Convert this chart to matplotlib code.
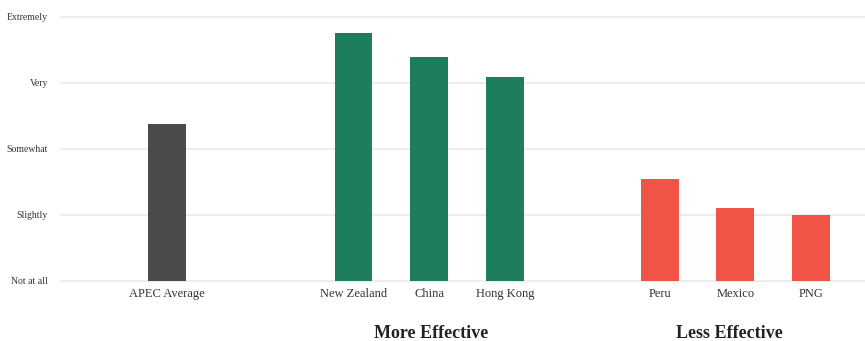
import matplotlib.pyplot as plt
from matplotlib import transforms

# data (0 = Not at all ... 4 = Extremely)
countries = ['APEC Average', 'New Zealand', 'China', 'Hong Kong', 'Peru', 'Mexico', 'PNG']
scores = [2.37, 3.75, 3.39, 3.09, 1.54, 1.10, 1.00]
groups = ['avg', 'more', 'more', 'more', 'less', 'less', 'less']
levels = ['Not at all', 'Slightly', 'Somewhat', 'Very', 'Extremely']
group_titles = ['More Effective', 'Less Effective']

colors = {'avg': '#4a4a4c', 'more': '#1e7d5a', 'less': '#f05447'}
xpos = [0, 2.46, 3.46, 4.46, 6.5, 7.5, 8.5]

plt.rcParams['font.family'] = ['Liberation Serif', 'DejaVu Serif']

fig = plt.figure(figsize=(8.65, 3.41), dpi=100)
ax = fig.add_axes([61/865, 1 - 280.7/341, 1 - 61/865, (280.7 - 16.7)/341])

ax.bar(xpos, scores, width=0.5, color=[colors[g] for g in groups], zorder=3)

ax.set_xlim(-1.4, 9.21)
ax.set_ylim(0, 4)
ax.set_yticks(range(len(levels)))
ax.set_yticklabels(levels, fontsize=7, color='#333333')
ax.set_xticks(xpos)
ax.set_xticklabels(countries, fontsize=9, color='#333333')
ax.tick_params(axis='y', length=0, pad=9.5)
ax.tick_params(axis='x', length=0, pad=5.5)
ax.grid(axis='y', color='#ececec', linewidth=1.3, zorder=0)
for gl in ax.get_ygridlines():
    gl.set_clip_on(False)
for s in ax.spines.values():
    s.set_visible(False)

trans = transforms.blended_transform_factory(ax.transData, fig.transFigure)
ax.text(3.48, 1 - 333/341, group_titles[0], transform=trans, ha='center', va='center',
        fontsize=13, fontweight='bold', color='#222222')
ax.text(7.42, 1 - 333/341, group_titles[1], transform=trans, ha='center', va='center',
        fontsize=13, fontweight='bold', color='#222222')

fig.savefig('out.png', dpi=100)
